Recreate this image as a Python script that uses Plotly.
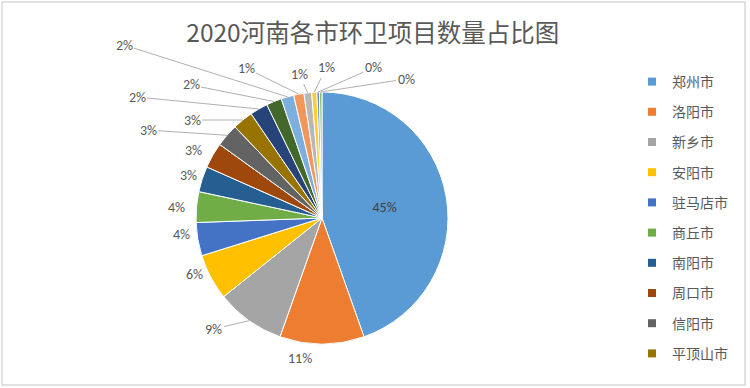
import math
import plotly.graph_objects as go

# Data
cities = ["郑州市", "洛阳市", "新乡市", "安阳市", "驻马店市", "商丘市", "南阳市", "周口市",
          "信阳市", "平顶山市", "开封市", "许昌市", "焦作市", "漯河市", "濮阳市", "三门峡市",
          "鹤壁市", "济源市"]
projects = [136, 33, 27, 18, 13, 12, 10, 10, 9, 8, 7, 6, 5, 4, 3, 2, 1, 1]
legend_shown = 10
title_text = "2020河南各市环卫项目数量占比图"

# Styles
colors = ["#5B9BD5", "#ED7D31", "#A5A5A5", "#FFC000", "#4472C4", "#70AD47",
          "#255E91", "#9E480E", "#636363", "#997300", "#264478", "#43682B",
          "#7CAFDD", "#F1975A", "#B7B7B7", "#FFCD33", "#698ED0", "#8CC168"]
W, H = 750, 388
cx, cy, r = 322, 218, 126
n_inside = 1  # slices labelled inside by plotly; the rest get outside callouts
# outside label centres (pixels) and whether a leader line is drawn
callout_pos = [(300, 358), (214, 329), (194, 274), (181, 235), (176, 207),
               (188, 176), (193, 151), (148, 130), (192, 120), (137, 97),
               (191, 85), (124, 45), (246, 68), (299, 74), (326, 68), (373, 68), (406, 79)]
callout_leader = [False, True, False, False, False, False, False, True, True, True,
                  True, True, True, True, True, True, True]
label_font = dict(family="Carlito, Liberation Sans, sans-serif", size=14, color="#595959")

fig = go.Figure()
fig.add_trace(go.Pie(
    labels=cities, values=projects, sort=False, direction="clockwise", rotation=0,
    marker=dict(colors=colors, line=dict(color="white", width=1)),
    texttemplate=["%{percent:.0%}"] * n_inside + [""] * (len(cities) - n_inside),
    textposition=["inside"] * n_inside + ["none"] * (len(cities) - n_inside),
    insidetextorientation="horizontal",
    insidetextfont=dict(family="Carlito, Liberation Sans, sans-serif", color="#404040", size=14),
    showlegend=False, hoverinfo="label+value+percent",
    domain=dict(x=[(cx - r) / W, (cx + r) / W], y=[(H - cy - r) / H, (H - cy + r) / H]),
))

# outside labels, leader lines anchored at the slice's outer-edge midpoint
total = sum(projects)
cum = sum(projects[:n_inside])
annotations = []
for k, v in enumerate(projects[n_inside:]):
    theta = 2 * math.pi * (cum + v / 2) / total
    cum += v
    px = cx + r * math.sin(theta)
    py = cy - r * math.cos(theta)
    lx, ly = callout_pos[k]
    txt = f"{round(100 * v / total)}%"
    if callout_leader[k]:
        annotations.append(dict(
            x=px / W, y=1 - py / H, xref="paper", yref="paper",
            ax=lx - px, ay=ly - py, axref="pixel", ayref="pixel",
            text=txt, showarrow=True, arrowhead=0,
            arrowwidth=1, arrowcolor="#B0B0B0", standoff=0, startstandoff=0,
            font=label_font,
        ))
    else:
        annotations.append(dict(
            x=lx / W, y=1 - ly / H, xref="paper", yref="paper",
            xanchor="center", yanchor="middle", text=txt, showarrow=False,
            font=label_font,
        ))

for i in range(legend_shown):
    fig.add_trace(go.Scatter(
        x=[None], y=[None], mode="markers", name=cities[i],
        marker=dict(symbol="square", size=8, color=colors[i]),
        legendgroup=cities[i], showlegend=True, hoverinfo="skip",
    ))

fig.update_layout(
    width=W, height=H,
    margin=dict(l=0, r=0, t=0, b=0, autoexpand=False),
    paper_bgcolor="white", plot_bgcolor="white",
    title=dict(text=title_text, x=0.497, xanchor="center", y=1 - 33 / H, yanchor="middle",
               font=dict(family="Noto Sans CJK SC, sans-serif", size=24.5, color="#595959")),
    xaxis=dict(visible=False), yaxis=dict(visible=False),
    legend=dict(x=632 / W, xanchor="left", y=1 - 66 / H, yanchor="top",
                traceorder="grouped", tracegroupgap=9,
                font=dict(family="Noto Sans CJK SC, sans-serif", size=14, color="#595959"),
                bgcolor="rgba(0,0,0,0)"),
    annotations=annotations,
    shapes=[dict(type="rect", xref="paper", yref="paper",
                 x0=2 / W, x1=745 / W, y0=1 - 385 / H, y1=1 - 2 / H,
                 line=dict(color="#D9D9D9", width=1.5))],
    showlegend=True,
)

fig.write_html("out.html", config={"displayModeBar": False},
               post_script="document.body.style.margin='0';")
